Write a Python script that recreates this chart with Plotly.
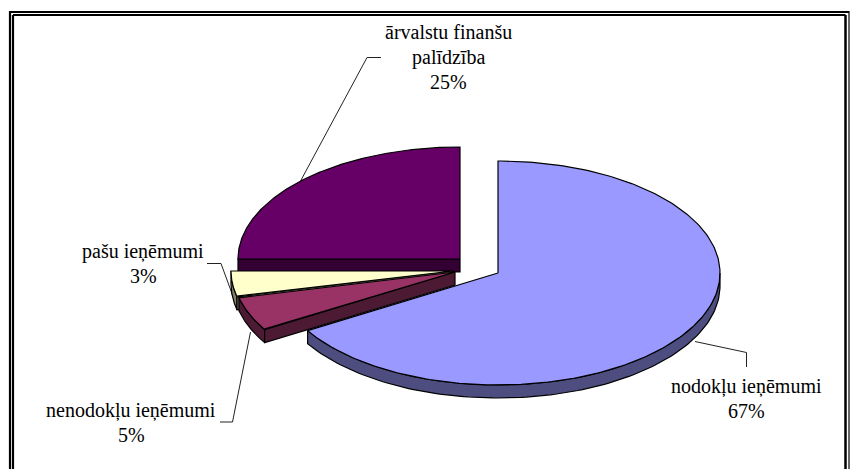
import numpy as np
import plotly.graph_objects as go

# --- data ---
categories = ["nodokļu ieņēmumi", "nenodokļu ieņēmumi", "pašu ieņēmumi", "ārvalstu finanšu palīdzība"]
values = [66.4, 4.9, 3.7, 25.0]
percent_labels = ["67%", "5%", "3%", "25%"]
label_lines = [["nodokļu ieņēmumi"], ["nenodokļu ieņēmumi"], ["pašu ieņēmumi"], ["ārvalstu finanšu", "palīdzība"]]

# --- styling / geometry ---
W, H = 851, 469
RX, RY, DEPTH = 222.0, 112.0, 13.0
centres = [(498, 273), (455, 272), (453, 271), (460, 259)]
top_colours = ["#9999FF", "#993366", "#FFFFCC", "#660066"]
side_colours = ["#4D4D80", "#4D1A33", "#808066", "#330033"]
draw_order = [3, 0, 2, 1]
label_pos = [(746, 373), (131, 397), (143, 238), (448, 19)]
LINE_STEP = 25
leaders = [
    [(695, 341.5), (746.5, 352.5), (746.5, 367)],
    [(220, 422), (232.5, 422), (250.5, 332)],
    [(207, 263.5), (221, 263.5), (238, 310)],
    [(381, 57.5), (367, 57.5), (300, 182)],
]

def pt(c, deg, dz=0.0):
    t = np.radians(deg)
    return c[0] + RX * np.sin(t), c[1] - RY * np.cos(t) + dz

def poly(fig, xs, ys, colour):
    fig.add_trace(go.Scatter(x=list(xs), y=list(ys), mode="lines", fill="toself", fillcolor=colour,
                             line=dict(color="#000000", width=1.2), hoverinfo="skip", showlegend=False))

fig = go.Figure()

# leader lines sit behind the pie
for path in leaders:
    fig.add_trace(go.Scatter(x=[p[0] for p in path], y=[p[1] for p in path], mode="lines",
                             line=dict(color="#222222", width=1), hoverinfo="skip", showlegend=False))

edges = np.cumsum([0.0] + values) / sum(values) * 360.0
for i in draw_order:
    a0, a1 = edges[i], edges[i + 1]
    c = centres[i]
    # curved rim facing the viewer
    lo, hi = max(a0, 90.0), min(a1, 270.0)
    if hi > lo:
        ang = np.linspace(lo, hi, 120)
        top = [pt(c, a) for a in ang]
        bot = [pt(c, a, DEPTH) for a in ang[::-1]]
        poly(fig, [p[0] for p in top + bot] + [top[0][0]], [p[1] for p in top + bot] + [top[0][1]], side_colours[i])
    # flat cut face that looks towards the viewer
    cut = a0 if i != 0 else None
    if cut is not None:
        e = pt(c, cut)
        xs = [c[0], e[0], e[0], c[0], c[0]]
        ys = [c[1], e[1], e[1] + DEPTH, c[1] + DEPTH, c[1]]
        poly(fig, xs, ys, side_colours[i])
    # top surface
    ang = np.linspace(a0, a1, 240)
    arc = [pt(c, a) for a in ang]
    poly(fig, [c[0]] + [p[0] for p in arc] + [c[0]], [c[1]] + [p[1] for p in arc] + [c[1]], top_colours[i])

annotations = []
for i in range(4):
    for k, line in enumerate(label_lines[i] + [percent_labels[i]]):
        annotations.append(dict(x=label_pos[i][0], y=label_pos[i][1] + k * LINE_STEP, text=line, showarrow=False,
                                xanchor="center", yanchor="top", align="center",
                                font=dict(family="Liberation Serif", size=20, color="#000000")))

# double frame, open at the bottom of the page
frame_lines = [
    (10, 11, 10, 480, 2.2), (10, 12, 849, 12, 2.2), (849, 11, 849, 480, 1.2),
    (13, 15, 13, 480, 2.2), (13, 15, 845.5, 15, 2.2), (845.5, 15, 845.5, 480, 2.5),
]
shapes = [dict(type="line", x0=a, y0=b, x1=c, y1=d, line=dict(color="#000000", width=w), layer="below")
          for a, b, c, d, w in frame_lines]

fig.update_layout(
    width=W, height=H, margin=dict(l=0, r=0, t=0, b=0), paper_bgcolor="#FFFFFF", plot_bgcolor="#FFFFFF",
    xaxis=dict(range=[0, W], visible=False, fixedrange=True),
    yaxis=dict(range=[H, 0], visible=False, fixedrange=True),
    annotations=annotations, shapes=shapes, showlegend=False,
)
fig.write_html("out.html", config={"displayModeBar": False},
               post_script="document.body.style.margin='0';document.body.style.overflow='hidden';")
